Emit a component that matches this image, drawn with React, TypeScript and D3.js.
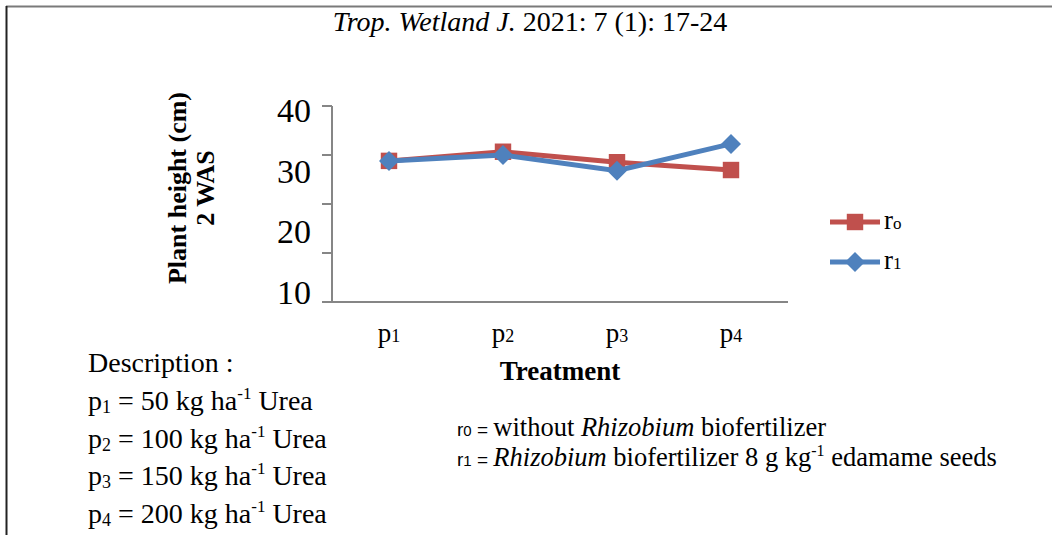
import React, { useEffect, useRef } from 'react';
import * as d3 from 'd3';

const categories = ['p1', 'p2', 'p3', 'p4'];
const categorySubs = ['1', '2', '3', '4'];
const r0Values = [31.6, 33.0, 31.4, 30.2];
const r1Values = [31.6, 32.5, 30.1, 34.2];
const yTickLabels = ['40', '30', '20', '10'];
const yTickMarks = [10, 17.5, 25, 32.5, 40];
const legendSubs = ['o', '1'];
const doses = ['50', '100', '150', '200'];

const RED = '#c0504d';
const BLUE = '#4f81bd';
const AXIS = '#868686';
const SERIF = 'Liberation Serif, serif';
const SANS = 'Liberation Sans, sans-serif';

const x = d3.scaleBand().domain(categories).range([332, 788]);
const y = d3.scaleLinear().domain([10, 40]).range([302, 106]);
const labelPos = d3.scalePoint().domain(yTickLabels).range([110, 292]);
const cx = (c: string) => (x(c) as number) + x.bandwidth() / 2;

export default function App() {
  const ref = useRef<SVGGElement>(null);

  useEffect(() => {
    const g = d3.select(ref.current);
    g.selectAll('*').remove();

    // axes
    g.append('line').attr('x1', 332).attr('x2', 332).attr('y1', y(40)).attr('y2', y(10))
      .attr('stroke', AXIS).attr('stroke-width', 2);
    g.append('line').attr('x1', 322).attr('x2', x.range()[1]).attr('y1', y(10)).attr('y2', y(10))
      .attr('stroke', AXIS).attr('stroke-width', 2);
    g.selectAll('line.tick').data(yTickMarks).enter().append('line')
      .attr('class', 'tick')
      .attr('x1', 322).attr('x2', 332).attr('y1', d => y(d)).attr('y2', d => y(d))
      .attr('stroke', AXIS).attr('stroke-width', 2);

    g.selectAll('text.ylab').data(yTickLabels).enter().append('text')
      .attr('class', 'ylab')
      .attr('x', 311).attr('y', d => labelPos(d) as number)
      .attr('dy', '0.35em')
      .attr('text-anchor', 'end').attr('font-family', SERIF).attr('font-size', 34)
      .text(d => d);

    const cl = g.selectAll('text.xlab').data(categories).enter().append('text')
      .attr('class', 'xlab')
      .attr('x', d => cx(d)).attr('y', 342)
      .attr('text-anchor', 'middle').attr('font-family', SERIF).attr('font-size', 27);
    cl.append('tspan').text('p');
    cl.append('tspan').attr('font-size', 18).text((d, i) => categorySubs[i]);

    // series
    const line = d3.line<number>().x((d, i) => cx(categories[i])).y(d => y(d));
    const square = d3.symbol().type(d3.symbolSquare).size(270);
    const diamond = d3.symbol().type(d3.symbolSquare).size(200);

    g.append('path').datum(r0Values).attr('d', line).attr('fill', 'none')
      .attr('stroke', RED).attr('stroke-width', 5);
    g.selectAll('path.r0').data(r0Values).enter().append('path')
      .attr('class', 'r0').attr('d', square)
      .attr('transform', (d, i) => `translate(${cx(categories[i])},${y(d)})`)
      .attr('fill', RED);

    g.append('path').datum(r1Values).attr('d', line).attr('fill', 'none')
      .attr('stroke', BLUE).attr('stroke-width', 5);
    g.selectAll('path.r1').data(r1Values).enter().append('path')
      .attr('class', 'r1').attr('d', diamond)
      .attr('transform', (d, i) => `translate(${cx(categories[i])},${y(d)}) rotate(45)`)
      .attr('fill', BLUE);

    // legend
    [RED, BLUE].forEach((col, i) => {
      const ly = 222 + i * 40;
      g.append('line').attr('x1', 830).attr('x2', 880).attr('y1', ly).attr('y2', ly)
        .attr('stroke', col).attr('stroke-width', 5);
      g.append('path').attr('d', i === 0 ? square : diamond)
        .attr('transform', `translate(855,${ly})${i === 1 ? ' rotate(45)' : ''}`).attr('fill', col);
      const t = g.append('text').attr('x', 884).attr('y', ly + 7)
        .attr('font-family', SERIF).attr('font-size', 27);
      t.append('tspan').text('r');
      t.append('tspan').attr('font-size', 17).text(legendSubs[i]);
    });
  }, []);

  return (
    <svg width={1052} height={535}
      style={{ position: 'absolute', left: 0, top: 0, background: '#fff' }}>
      {/* page borders */}
      <line x1={6} x2={1052} y1={6.5} y2={6.5} stroke="#7a7a7a" strokeWidth={2} />
      <line x1={6.5} x2={6.5} y1={6} y2={535} stroke="#222" strokeWidth={2} />

      <text x={530} y={31} textAnchor="middle" fontFamily={SERIF} fontSize={28}>
        <tspan fontStyle="italic">Trop. Wetland J.</tspan>
        <tspan> 2021: 7 (1): 17-24</tspan>
      </text>

      <text x={560} y={380} textAnchor="middle" fontFamily={SERIF} fontSize={27} fontWeight="bold">
        Treatment
      </text>

      <g transform="translate(188,188) rotate(-90)" fontFamily={SERIF} fontSize={26} fontWeight="bold">
        <text x={0} y={-2} textAnchor="middle">Plant height (cm)</text>
        <text x={0} y={26} textAnchor="middle">2 WAS</text>
      </g>

      <g ref={ref} />

      <g fontFamily={SERIF} fontSize={28}>
        <text x={88} y={372}>Description :</text>
        {doses.map((dose, i) => (
          <text key={dose} x={88} y={410 + i * 37.5}>
            <tspan>p</tspan>
            <tspan fontSize={18} dy={3}>{categorySubs[i]}</tspan>
            <tspan dy={-3}>{` = ${dose} kg ha`}</tspan>
            <tspan fontSize={17} dy={-11}>-1</tspan>
            <tspan dy={11}> Urea</tspan>
          </text>
        ))}
      </g>

      <g fontFamily={SERIF} fontSize={26.5}>
        <text x={457} y={436}>
          <tspan fontFamily={SANS} fontSize={19}>r</tspan>
          <tspan fontFamily={SANS} fontSize={15}>0</tspan>
          <tspan fontFamily={SANS} fontSize={19}>{' = '}</tspan>
          <tspan>without </tspan>
          <tspan fontStyle="italic">Rhizobium</tspan>
          <tspan> biofertilizer</tspan>
        </text>
        <text x={457} y={466}>
          <tspan fontFamily={SANS} fontSize={19}>r</tspan>
          <tspan fontFamily={SANS} fontSize={15}>1</tspan>
          <tspan fontFamily={SANS} fontSize={19}>{' = '}</tspan>
          <tspan fontStyle="italic">Rhizobium</tspan>
          <tspan> biofertilizer 8 g kg</tspan>
          <tspan fontSize={16} dy={-10}>-1</tspan>
          <tspan dy={10}> edamame seeds</tspan>
        </text>
      </g>
    </svg>
  );
}
